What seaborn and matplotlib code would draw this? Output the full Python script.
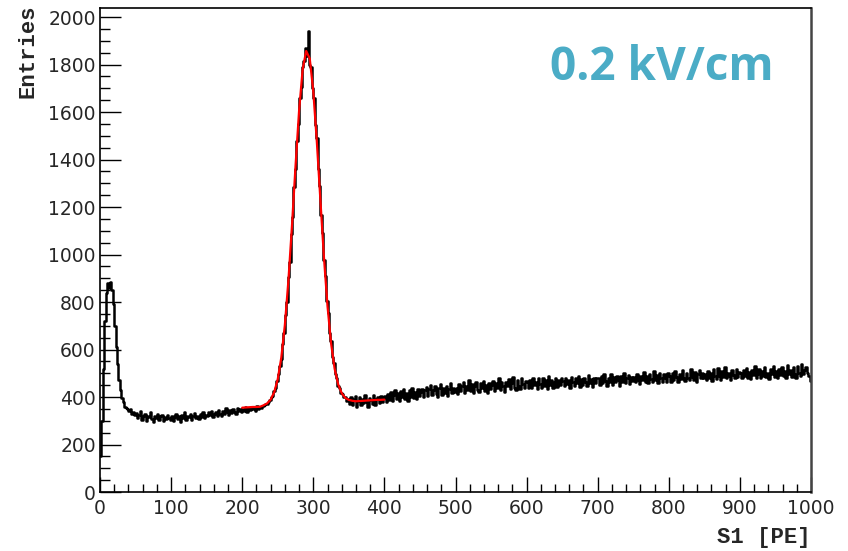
import numpy as np
import pandas as pd
import matplotlib
matplotlib.use("Agg")
import matplotlib.pyplot as plt
import seaborn as sns
from matplotlib.ticker import MultipleLocator

# ---- data, 2 PE bins ----
bin_width = 2
counts_000 = [150, 300, 520, 720, 840, 880, 860, 885, 850, 790, 700, 610, 540, 470, 430,
              395, 380, 360, 355, 348, 342, 350, 330, 338, 325]
counts_050 = [332, 310, 325, 340, 305, 318, 328, 300, 322, 315, 335, 308, 296, 320, 312,
              330, 302, 318, 325, 298, 315, 308, 326, 312, 305]
counts_100 = [322, 300, 315, 330, 308, 318, 296, 325, 312, 335, 305, 320, 314, 328, 302,
              318, 332, 310, 322, 306, 328, 315, 338, 312, 324]
counts_150 = [318, 335, 325, 342, 315, 330, 338, 322, 345, 330, 318, 340, 328, 352, 335,
              325, 345, 332, 350, 338, 328, 355, 340, 348, 335]
counts_200 = [350, 342, 358, 338, 352, 345, 360, 348, 355, 340, 362, 350, 358, 354, 362,
              366, 370, 372, 380, 386, 398, 405, 425, 440, 468]
counts_250 = [495, 530, 560, 622, 668, 745, 800, 905, 970, 1085, 1160, 1285, 1360, 1480, 1550,
              1660, 1705, 1790, 1815, 1870, 1835, 1940, 1800, 1790, 1700]
counts_300 = [1660, 1545, 1490, 1360, 1290, 1165, 1090, 975, 910, 805, 755, 670, 635, 570, 545,
              495, 480, 445, 440, 415, 412, 398, 400, 385, 392]
counts_350 = [372, 398, 365, 392, 405, 360, 385, 402, 368, 390, 375, 408, 380, 358, 395,
              386, 370, 410, 368, 392, 398, 375, 405, 380, 396]
counts_400 = [405, 380, 412, 388, 420, 382, 408, 428, 390, 415, 385, 425, 398, 435, 392,
              418, 385, 428, 402, 440, 395, 420, 390, 432, 405]
counts_450 = [420, 435, 398, 428, 442, 405, 432, 452, 408, 428, 445, 412, 400, 438, 455,
              410, 440, 418, 448, 405, 435, 458, 415, 440, 422]
counts_500 = [440, 412, 455, 425, 445, 462, 418, 448, 430, 472, 425, 455, 415, 445, 462,
              430, 420, 458, 438, 468, 425, 450, 418, 460, 435]
counts_550 = [452, 468, 425, 458, 440, 478, 430, 462, 448, 422, 465, 445, 475, 432, 458,
              485, 440, 428, 470, 448, 435, 478, 455, 440, 468]
counts_600 = [462, 440, 472, 436, 482, 450, 465, 432, 478, 455, 440, 480, 445, 470, 435,
              488, 452, 472, 440, 462, 478, 442, 470, 450, 482]
counts_650 = [468, 445, 482, 455, 472, 438, 485, 462, 448, 478, 460, 490, 442, 475, 452,
              482, 465, 445, 492, 458, 475, 442, 482, 460, 478]
counts_700 = [478, 450, 488, 458, 495, 468, 445, 482, 465, 498, 452, 485, 462, 490, 470,
              448, 488, 465, 500, 458, 480, 492, 455, 485, 468]
counts_750 = [485, 462, 495, 470, 455, 490, 472, 505, 465, 488, 458, 498, 475, 462, 508,
              470, 492, 460, 500, 478, 465, 495, 480, 465, 502]
counts_800 = [490, 465, 502, 472, 510, 485, 462, 498, 475, 515, 480, 468, 502, 482, 470,
              518, 486, 472, 505, 465, 495, 512, 478, 500, 482]
counts_850 = [495, 470, 510, 482, 500, 468, 518, 488, 475, 522, 490, 472, 508, 485, 525,
              478, 500, 488, 470, 512, 492, 478, 518, 486, 505]
counts_900 = [502, 478, 515, 488, 522, 482, 505, 475, 512, 492, 530, 482, 498, 518, 478,
              508, 490, 528, 485, 502, 476, 520, 495, 532, 485]
counts_950 = [508, 482, 520, 492, 528, 488, 510, 480, 535, 495, 512, 486, 525, 498, 482,
              530, 502, 490, 538, 495, 515, 525, 500, 488, 468]
counts = (counts_000 + counts_050 + counts_100 + counts_150 + counts_200 + counts_250 +
          counts_300 + counts_350 + counts_400 + counts_450 + counts_500 + counts_550 +
          counts_600 + counts_650 + counts_700 + counts_750 + counts_800 + counts_850 +
          counts_900 + counts_950)

fit_x = [200, 205, 210, 215, 220, 225, 230, 235, 240, 245,
         250, 255, 260, 265, 270, 275, 280, 285, 290, 295,
         300, 305, 310, 315, 320, 325, 330, 335, 340, 345,
         350, 355, 360, 365, 370, 375, 380, 385, 390, 395, 400]
fit_y = [355, 356, 357, 358, 358, 359, 365, 373, 389, 420,
         475, 566, 703, 891, 1121, 1372, 1605, 1779, 1857, 1825,
         1687, 1474, 1228, 987, 782, 626, 519, 453, 416, 396,
         388, 384, 382, 383, 384, 385, 386, 387, 388, 388, 389]

x_ticks = [0, 100, 200, 300, 400, 500, 600, 700, 800, 900, 1000]
y_ticks = [0, 200, 400, 600, 800, 1000, 1200, 1400, 1600, 1800, 2000]
x_title = "S1 [PE]"
y_title = "Entries"
label_text = "0.2 kV/cm"

# ---- plotting ----
sns.set_theme(style="white")
plt.rcParams["font.family"] = ["DejaVu Sans"]

centers = np.arange(len(counts)) * bin_width + bin_width / 2
df = pd.DataFrame({"S1": centers, "n": counts})
fit_df = pd.DataFrame({"x": fit_x, "y": fit_y})

fig = plt.figure(figsize=(8.48, 5.51), dpi=100)
ax = fig.add_axes([100 / 848, 1 - 492 / 551, 711 / 848, 484 / 551])

sns.histplot(data=df, x="S1", weights="n", binwidth=bin_width, binrange=(0, 1000),
             element="step", fill=False, color="black", linewidth=1.8, ax=ax)
sns.lineplot(data=fit_df, x="x", y="y", color="#ff0000", linewidth=1.6, ax=ax)

ax.set_xlim(0, 1000)
ax.set_ylim(0, 2038)
ax.set_xticks(x_ticks)
ax.set_yticks(y_ticks)
ax.xaxis.set_minor_locator(MultipleLocator(20))
ax.yaxis.set_minor_locator(MultipleLocator(50))
ax.tick_params(axis="x", which="major", direction="in", length=10.5, width=1.0,
               labelsize=13.5, pad=5, bottom=True, top=False, color="black")
ax.tick_params(axis="x", which="minor", direction="in", length=5.5, width=1.0,
               bottom=True, top=False, color="black")
ax.tick_params(axis="y", which="major", direction="in", length=15, width=1.0,
               labelsize=13.5, pad=3, left=True, right=False, color="black")
ax.tick_params(axis="y", which="minor", direction="in", length=7.5, width=1.0,
               left=True, right=False, color="black")
ax.set_xlabel("")
ax.set_ylabel("")
for side, sp in ax.spines.items():
    sp.set_visible(True)
    sp.set_color("black")
    sp.set_linewidth(1.2)
ax.spines["right"].set_color("#444444")
ax.spines["right"].set_linewidth(1.8)

fig.text(28 / 848, 1 - 4 / 551, y_title, rotation=90, ha="center", va="top",
         fontsize=16, fontweight="bold", family=["Liberation Mono", "DejaVu Sans Mono"])
fig.text(811 / 848, 1 - 538 / 551, x_title, ha="right", va="center",
         fontsize=16, fontweight="bold", family=["Liberation Mono", "DejaVu Sans Mono"])
fig.text(662 / 848, 1 - 68 / 551, label_text, ha="center", va="center",
         fontsize=33, fontweight="bold", color="#4BACC6", family=["Open Sans", "DejaVu Sans"])

fig.savefig("out.png", dpi=100, facecolor="white")
